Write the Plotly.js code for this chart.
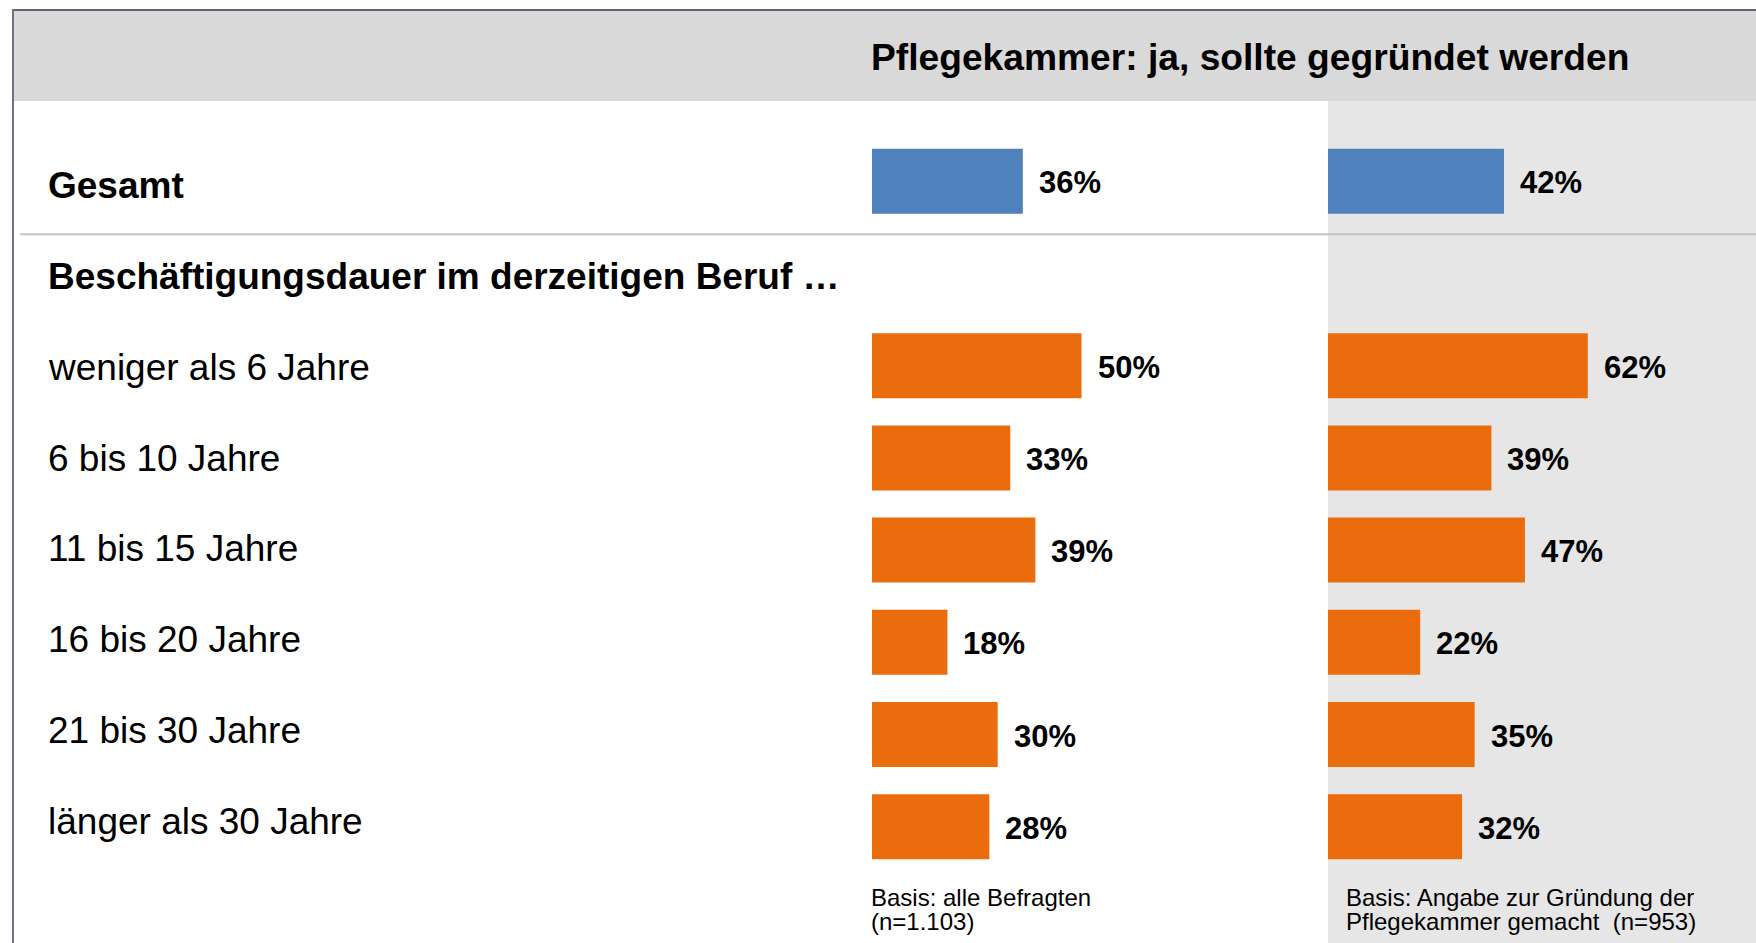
<!DOCTYPE html>
<html>
<head>
<meta charset="utf-8">
<script src="https://cdn.plot.ly/plotly-3.0.1.min.js"></script>
<style>
  html, body { margin: 0; padding: 0; background: #ffffff; }
  #chart { width: 1756px; height: 943px; }
</style>
</head>
<body>
<div id="chart"></div>
<script>
// ---- data ----
const categories = [
  "Gesamt",
  "Beschäftigungsdauer im derzeitigen Beruf …",
  "weniger als 6 Jahre",
  "6 bis 10 Jahre",
  "11 bis 15 Jahre",
  "16 bis 20 Jahre",
  "21 bis 30 Jahre",
  "länger als 30 Jahre"
];
const alleBefragten = [36, null, 50, 33, 39, 18, 30, 28];
const mitAngabe     = [42, null, 62, 39, 47, 22, 35, 32];
const chartTitle = "Pflegekammer: ja, sollte gegründet werden";
const noteLeft  = ["Basis: alle Befragten", "(n=1.103)"];
const noteRight = ["Basis: Angabe zur Gründung der", "Pflegekammer gemacht  (n=953)"];

// ---- layout helpers ----
const W = 1756, H = 943;
const px = v => v / W;
const py = v => 1 - v / H;
const FONT = "Liberation Sans, Arial, Helvetica, sans-serif";
const BLUE = "#4F81BD", ORANGE = "#EA6C0C";

const barColors = categories.map((c, i) => i === 0 ? BLUE : ORANGE);

const leftX0 = 872, rightX0 = 1328, pxPerPct = 4.19;
const yTop = 135.2, yBot = 872.8;

const traces = [
  {
    type: "bar", orientation: "h",
    x: alleBefragten, y: categories,
    xaxis: "x", yaxis: "y",
    width: 0.705,
    marker: { color: barColors, line: { width: 0 } },
    hoverinfo: "skip", showlegend: false
  },
  {
    type: "bar", orientation: "h",
    x: mitAngabe, y: categories,
    xaxis: "x2", yaxis: "y",
    width: 0.705,
    marker: { color: barColors, line: { width: 0 } },
    hoverinfo: "skip", showlegend: false
  }
];

const annotations = [];

// title
annotations.push({
  xref: "paper", yref: "paper", x: px(869), y: py(57),
  xanchor: "left", yanchor: "middle", showarrow: false,
  text: "<b>" + chartTitle + "</b>",
  font: { family: FONT, size: 37.2, color: "#000000" }
});

// category labels (the label column is spaced slightly tighter than the bars)
categories.forEach((c, i) => {
  const bold = i < 2;
  const shift = i === 0 ? -4 : (i - 2) * 1.4 - 1.5;
  annotations.push({
    xref: "paper", yref: "y", x: px(46), y: c,
    xanchor: "left", yanchor: "middle", showarrow: false,
    yshift: shift,
    text: bold ? "<b>" + c + "</b>" : c,
    font: { family: FONT, size: 37, color: "#000000" }
  });
});

// value labels
function addValues(vals, xref) {
  vals.forEach((v, i) => {
    if (v === null) return;
    annotations.push({
      xref: xref, yref: "y", x: v, y: categories[i],
      xanchor: "left", yanchor: "middle", showarrow: false,
      xshift: 14, yshift: -1.5,
      text: "<b>" + v + "%</b>",
      font: { family: FONT, size: 31, color: "#000000" }
    });
  });
}
addValues(alleBefragten, "x");
addValues(mitAngabe, "x2");

// footnotes
[[noteLeft, 869], [noteRight, 1344]].forEach(([lines, x]) => {
  lines.forEach((t, j) => {
    annotations.push({
      xref: "paper", yref: "paper", x: px(x), y: py(897 + j * 24),
      xanchor: "left", yanchor: "middle", showarrow: false,
      text: t,
      font: { family: FONT, size: 24, color: "#000000" }
    });
  });
});

const shapes = [
  // header band
  { type: "rect", xref: "paper", yref: "paper", layer: "below",
    x0: px(13), x1: 1, y0: py(101), y1: py(10),
    fillcolor: "#D9D9D9", line: { width: 0 } },
  // right panel
  { type: "rect", xref: "paper", yref: "paper", layer: "below",
    x0: px(rightX0), x1: 1, y0: 0, y1: py(101),
    fillcolor: "#E6E6E6", line: { width: 0 } },
  // separator
  { type: "line", xref: "paper", yref: "paper", layer: "below",
    x0: px(20), x1: 1, y0: py(234.3), y1: py(234.3),
    line: { color: "#C3C3C3", width: 2 } },
  // frame top
  { type: "line", xref: "paper", yref: "paper", layer: "above",
    x0: px(12), x1: 1, y0: py(10), y1: py(10),
    line: { color: "#5B6470", width: 2 } },
  // frame left
  { type: "line", xref: "paper", yref: "paper", layer: "above",
    x0: px(13), x1: px(13), y0: 0, y1: py(9),
    line: { color: "#6B7480", width: 2 } }
];

const hiddenAxis = {
  showgrid: false, zeroline: false, showline: false,
  showticklabels: false, ticks: "", fixedrange: true
};

const layout = {
  width: W, height: H,
  margin: { l: 0, r: 0, t: 0, b: 0, pad: 0 },
  paper_bgcolor: "#FFFFFF",
  plot_bgcolor: "rgba(0,0,0,0)",
  showlegend: false,
  xaxis: Object.assign({}, hiddenAxis, {
    domain: [px(leftX0), px(rightX0)],
    range: [0, (rightX0 - leftX0) / pxPerPct],
    anchor: "y"
  }),
  xaxis2: Object.assign({}, hiddenAxis, {
    domain: [px(rightX0), 1],
    range: [0, (W - rightX0) / pxPerPct],
    anchor: "y"
  }),
  yaxis: Object.assign({}, hiddenAxis, {
    type: "category",
    categoryorder: "array",
    categoryarray: categories,
    range: [categories.length - 0.5, -0.5],
    domain: [py(yBot), py(yTop)],
    anchor: "x"
  }),
  annotations: annotations,
  shapes: shapes
};

Plotly.newPlot("chart", traces, layout, { displayModeBar: false, staticPlot: true });
</script>
</body>
</html>
